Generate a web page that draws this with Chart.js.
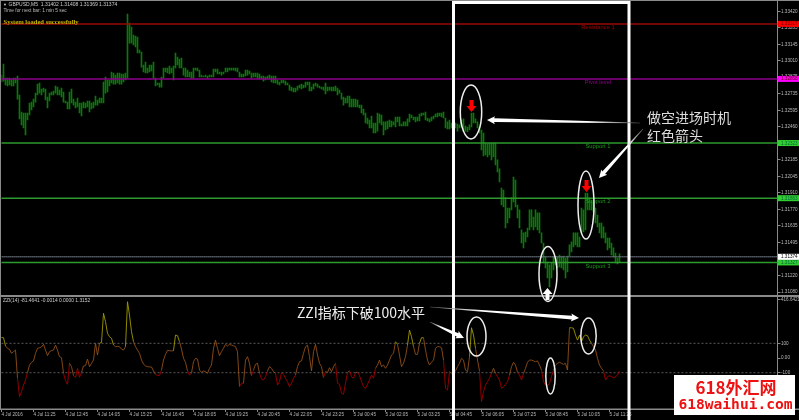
<!DOCTYPE html>
<html>
<head>
<meta charset="utf-8">
<title>GBPUSD,M5</title>
<script src="https://cdn.jsdelivr.net/npm/chart.js@4/dist/chart.umd.js"></script>
<style>
	html, body {margin: 0; padding: 0; background: #000;}
	canvas {display: block;}
</style>
</head>
<body>
<canvas id="chart" width="799" height="420"></canvas>
<script>
const highs = [
	1.32890,1.32982,1.32865,1.32865,1.32865,1.32857,1.32865,1.32865,1.32882,1.32724,
	1.32582,1.32574,1.32574,1.32574,1.32657,1.32665,1.32690,1.32740,1.32815,1.32824,
	1.32774,1.32782,1.32774,1.32707,1.32740,1.32749,1.32757,1.32799,1.32790,1.32765,
	1.32782,1.32749,1.32674,1.32665,1.32749,1.32774,1.32690,1.32665,1.32699,1.32657,
	1.32657,1.32665,1.32657,1.32674,1.32674,1.32657,1.32665,1.32715,1.32682,1.32699,
	1.32699,1.32832,1.32874,1.32849,1.32849,1.32916,1.32907,1.32890,1.32907,1.32907,
	1.32899,1.32899,1.32907,1.33399,1.33324,1.33291,1.33224,1.33216,1.33207,1.33099,
	1.33082,1.32974,1.32999,1.32949,1.32974,1.32974,1.32999,1.32865,1.32824,1.32824,
	1.32874,1.32949,1.32949,1.32949,1.32966,1.32949,1.32966,1.33074,1.33041,1.33024,
	1.33032,1.32949,1.32949,1.32932,1.32916,1.32916,1.32949,1.32949,1.32949,1.32932,
	1.32890,1.32882,1.32890,1.32882,1.32890,1.32890,1.32941,1.32941,1.32941,1.32916,
	1.32916,1.32916,1.32949,1.32949,1.32949,1.32949,1.32949,1.32949,1.32949,1.32916,
	1.32899,1.32899,1.32932,1.32932,1.32924,1.32907,1.32907,1.32907,1.32907,1.32899,
	1.32882,1.32882,1.32874,1.32882,1.32890,1.32882,1.32882,1.32882,1.32849,1.32832,
	1.32849,1.32849,1.32840,1.32824,1.32807,1.32790,1.32782,1.32782,1.32799,1.32807,
	1.32815,1.32807,1.32832,1.32832,1.32832,1.32790,1.32815,1.32824,1.32815,1.32799,
	1.32790,1.32790,1.32824,1.32790,1.32790,1.32790,1.32790,1.32799,1.32782,1.32765,
	1.32740,1.32707,1.32699,1.32715,1.32715,1.32690,1.32690,1.32690,1.32682,1.32640,
	1.32640,1.32607,1.32574,1.32532,1.32515,1.32549,1.32490,1.32490,1.32574,1.32565,
	1.32557,1.32499,1.32499,1.32507,1.32515,1.32507,1.32499,1.32540,1.32540,1.32540,
	1.32482,1.32499,1.32499,1.32524,1.32565,1.32557,1.32540,1.32540,1.32540,1.32565,
	1.32574,1.32574,1.32582,1.32532,1.32524,1.32540,1.32549,1.32565,1.32574,1.32574,
	1.32574,1.32582,1.32532,1.32499,1.32515,1.32490,1.32490,1.32490,1.32482,1.32474,
	1.32515,1.32524,1.32465,1.32457,1.32474,1.32574,1.32574,1.32524,1.32499,1.32457,
	1.32432,1.32407,1.32323,1.32315,1.32323,1.32323,1.32323,1.32323,1.32182,1.32107,
	1.31948,1.31931,1.31865,1.31781,1.31781,1.31865,1.32040,1.32015,1.31806,1.31765,
	1.31598,1.31573,1.31581,1.31614,1.31765,1.31765,1.31706,1.31765,1.31740,1.31740,
	1.31573,1.31489,1.31373,1.31331,1.31306,1.31323,1.31373,1.31373,1.31373,1.31389,
	1.31373,1.31381,1.31364,1.31381,1.31473,1.31498,1.31573,1.31573,1.31573,1.31539,
	1.31781,1.31765,1.31906,1.31906,1.31865,1.31848,1.31831,1.31781,1.31723,1.31656,
	1.31656,1.31623,1.31573,1.31531,1.31531,1.31489,1.31448,1.31406,1.31364,1.31398
];
const lows = [
	1.32832,1.32840,1.32807,1.32799,1.32807,1.32799,1.32799,1.32824,1.32690,1.32524,
	1.32474,1.32449,1.32390,1.32515,1.32557,1.32599,1.32624,1.32665,1.32724,1.32740,
	1.32724,1.32749,1.32682,1.32615,1.32674,1.32724,1.32724,1.32740,1.32724,1.32724,
	1.32707,1.32665,1.32657,1.32607,1.32607,1.32657,1.32640,1.32615,1.32624,1.32574,
	1.32549,1.32615,1.32615,1.32624,1.32582,1.32607,1.32615,1.32640,1.32640,1.32657,
	1.32657,1.32657,1.32740,1.32749,1.32799,1.32824,1.32815,1.32815,1.32824,1.32815,
	1.32815,1.32832,1.32849,1.32865,1.33157,1.33157,1.33141,1.33124,1.33074,1.33074,
	1.32957,1.32916,1.32907,1.32907,1.32916,1.32924,1.32865,1.32799,1.32807,1.32790,
	1.32790,1.32865,1.32916,1.32907,1.32899,1.32907,1.32849,1.32949,1.32974,1.32949,
	1.32949,1.32890,1.32874,1.32874,1.32874,1.32865,1.32865,1.32932,1.32924,1.32874,
	1.32874,1.32874,1.32874,1.32865,1.32874,1.32874,1.32874,1.32916,1.32899,1.32899,
	1.32890,1.32899,1.32916,1.32916,1.32932,1.32932,1.32932,1.32924,1.32916,1.32874,
	1.32874,1.32874,1.32882,1.32890,1.32899,1.32865,1.32874,1.32874,1.32865,1.32857,
	1.32857,1.32840,1.32849,1.32857,1.32857,1.32832,1.32824,1.32824,1.32815,1.32807,
	1.32824,1.32824,1.32807,1.32807,1.32765,1.32757,1.32749,1.32749,1.32765,1.32782,
	1.32774,1.32782,1.32790,1.32807,1.32757,1.32757,1.32774,1.32799,1.32790,1.32782,
	1.32774,1.32765,1.32732,1.32757,1.32765,1.32757,1.32757,1.32757,1.32724,1.32740,
	1.32690,1.32640,1.32657,1.32657,1.32624,1.32624,1.32624,1.32624,1.32624,1.32615,
	1.32574,1.32557,1.32490,1.32482,1.32449,1.32449,1.32407,1.32407,1.32423,1.32490,
	1.32474,1.32390,1.32432,1.32440,1.32457,1.32457,1.32474,1.32457,1.32499,1.32465,
	1.32465,1.32465,1.32465,1.32465,1.32499,1.32532,1.32515,1.32499,1.32507,1.32507,
	1.32549,1.32557,1.32515,1.32507,1.32499,1.32507,1.32524,1.32540,1.32540,1.32549,
	1.32540,1.32532,1.32449,1.32440,1.32440,1.32449,1.32449,1.32449,1.32423,1.32449,
	1.32457,1.32423,1.32423,1.32415,1.32432,1.32457,1.32490,1.32490,1.32449,1.32407,
	1.32265,1.32215,1.32223,1.32207,1.32223,1.32182,1.32207,1.32140,1.32082,1.31998,
	1.31806,1.31790,1.31614,1.31656,1.31698,1.31765,1.31831,1.31790,1.31698,1.31614,
	1.31489,1.31448,1.31498,1.31539,1.31598,1.31623,1.31598,1.31623,1.31598,1.31573,
	1.31489,1.31323,1.31281,1.31197,1.31122,1.31197,1.31264,1.31306,1.31281,1.31289,
	1.31281,1.31264,1.31197,1.31248,1.31381,1.31414,1.31456,1.31473,1.31456,1.31456,
	1.31573,1.31581,1.31598,1.31765,1.31765,1.31765,1.31748,1.31656,1.31623,1.31573,
	1.31531,1.31531,1.31489,1.31431,1.31448,1.31389,1.31373,1.31323,1.31314,1.31331
];
const zzi = [
	140,138,82,66,59,32,43,54,-138,-263,-229,-184,-150,-98,-48,-29,-20,32,66,70,
	75,93,54,16,43,50,54,88,54,9,2,-104,-154,-179,-36,-59,-120,-134,-70,-131,
	-98,-54,-52,-7,-59,-36,-14,100,20,100,106,304,247,168,145,134,88,77,79,77,
	61,54,77,383,292,179,111,77,54,32,-14,-41,-54,-59,-61,-61,-88,-111,-120,-118,
	-82,-14,25,52,50,48,50,156,152,111,61,-2,-29,-88,-116,-104,-25,-2,-7,-82,
	-98,-88,-93,-104,-70,-48,66,122,66,16,43,66,93,82,93,88,84,77,43,-195,
	-172,-172,-14,9,-36,-120,-82,-43,-36,-104,-143,-150,-127,-88,-59,
	-70,-93,-104,-184,-161,-98,-111,-138,-161,-195,-172,-138,-116,-59,-25,-20,32,77,88,9,
	-88,43,93,20,-36,-59,-134,-93,-98,-66,-93,-59,-36,-172,-179,-240,-247,-172,-98,-88,
	-127,-138,-98,-98,-120,-161,-195,-206,-179,-150,-116,-138,-70,-48,-14,-59,-48,-70,-48,-14,
	20,32,111,93,20,-59,-36,9,88,190,145,77,25,25,100,138,138,54,-14,-48,
	-29,-14,66,77,77,70,-14,-206,-218,-93,-104,-127,-88,-59,-36,-2,-14,-82,-93,9,
	206,156,66,-14,-88,-297,-229,-184,-161,-138,-104,-70,-104,-127,-150,-206,-195,-179,-161,-116,
	-59,-29,-48,-98,-116,-150,-104,-70,-29,-14,
	-14,-20,-25,-20,-48,-82,-161,-184,-188,-172,-127,-82,-48,-36,-29,-36,-43,-36,-82,
	206,206,202,156,122,156,111,145,156,152,122,100,77,54,-2,-48,-70,-88,-150,-127,
	-120,-127,-134,-127,-116,-88
];
const tickLabels = [
	'4 Jul 2016','4 Jul 11:25','4 Jul 12:45','4 Jul 14:05','4 Jul 15:25','4 Jul 16:45','4 Jul 18:05',
	'4 Jul 19:25','4 Jul 20:45','4 Jul 22:05','4 Jul 23:25','5 Jul 00:45','5 Jul 02:05','5 Jul 03:25',
	'5 Jul 04:45','5 Jul 06:05','5 Jul 07:25','5 Jul 08:45','5 Jul 10:05','5 Jul 11:25'
];
const priceTicks = [
	1.33420,1.33285,1.33145,1.33010,1.32875,1.32735,1.32595,1.32460,1.32325,
	1.32185,1.32045,1.31910,1.31770,1.31635,1.31495,1.31360,1.31220,1.31080
];
// the top label sits a little under the pane edge in the terminal
const zziTicks = [398, 100, 0, -100];
const zziTickText = ['416.6421', '100', '0.00', '-100'];
const levelNames = ['Resistance 1', 'Pivot level', 'Support 1', 'Support 2', 'Support 3'];
const levelPrices = [1.33317, 1.32858, 1.32323, 1.31863, 1.31327];
const levelColors = ['#960808', '#8b008b', '#2c9a2c', '#2c9a2c', '#2c9a2c'];
const levelTextColors = ['#a00000', '#8a008a', '#189618', '#189618', '#189618'];
const levelTagColors = ['#ff0000', '#ff00ff', '#32cd32', '#32cd32', '#32cd32'];
const lastPrice = 1.31374;
const slots = 389;

const labels = Array.from({length: slots}, (_, i) => i);
const flat = (v) => labels.map(() => v);

const levelSets = levelPrices.map((p, k) => ({
	type: 'line', data: flat(p), yAxisID: 'y', borderColor: levelColors[k],
	borderWidth: 1.5, pointRadius: 0, order: 1
}));

const ellipses = [
	{bar: 234.75, val: 1.32582, axis: 'y', rx: 10.7, ry: 27},
	{bar: 292.25, val: 1.31806, axis: 'y', rx: 8, ry: 34},
	{bar: 273.25, val: 1.31231, axis: 'y', rx: 9, ry: 27.5},
	{bar: 237.5, val: 146, axis: 'z', rx: 9.5, ry: 19.5},
	{bar: 293.5, val: 150, axis: 'z', rx: 7.7, ry: 18},
	{bar: 274.5, val: -122, axis: 'z', rx: 4.7, ry: 18}
];
const pointers = [
	{from: [319.25, 1.32490], to: [242.75, 1.32515], axis: 'y'},
	{from: [320.75, 1.32440], to: [298.75, 1.32031], axis: 'y'},
	{from: [214.25, 245], to: [231.25, 136], axis: 'z'},
	{from: [214.25, 347], to: [288.75, 272], axis: 'z'}
];
const signals = [
	{bar: 235, val: 1.32582, dir: 1, color: '#ff0000'},
	{bar: 292.5, val: 1.31915, dir: 1, color: '#ff0000'},
	{bar: 273, val: 1.31114, dir: -1, color: '#ffffff'}
];

function put(ctx, text, x, y, font, color, align) {
	ctx.font = font;
	ctx.fillStyle = color;
	ctx.textAlign = align || 'left';
	ctx.textBaseline = 'middle';
	ctx.fillText(text, x, y);
}

function drawPointer(ctx, x0, y0, x1, y1) {
	const a = Math.atan2(y1 - y0, x1 - x0), len = Math.hypot(x1 - x0, y1 - y0);
	const g = ctx.createLinearGradient(x0, y0, x1, y1);
	g.addColorStop(0, '#555');
	g.addColorStop(0.35, '#fff');
	ctx.save();
	ctx.translate(x0, y0);
	ctx.rotate(a);
	ctx.beginPath();
	ctx.moveTo(0, -0.3);
	ctx.lineTo(len * 0.45, -1.1);
	ctx.lineTo(len - 7, -1.9);
	ctx.lineTo(len - 8, -4);
	ctx.lineTo(len, 0);
	ctx.lineTo(len - 8, 4);
	ctx.lineTo(len - 7, 1.9);
	ctx.lineTo(len * 0.45, 1.1);
	ctx.lineTo(0, 0.3);
	ctx.closePath();
	ctx.restore();
	ctx.fillStyle = g;
	ctx.fill();
}

function drawSignal(ctx, x, y, dir, color) {
	ctx.fillStyle = color;
	ctx.beginPath();
	ctx.moveTo(x, y);
	ctx.lineTo(x - 5, y - 6 * dir);
	ctx.lineTo(x - 2, y - 6 * dir);
	ctx.lineTo(x - 2, y - 12 * dir);
	ctx.lineTo(x + 2, y - 12 * dir);
	ctx.lineTo(x + 2, y - 6 * dir);
	ctx.lineTo(x + 5, y - 6 * dir);
	ctx.closePath();
	ctx.fill();
}

const overlay = {
	id: 'overlay',
	afterDraw(chart) {
		const ctx = chart.ctx, {x, y, z} = chart.scales;
		const scale = {y: y, z: z};
		const sans = '"Liberation Sans"';

		// window frame and pane separators
		ctx.fillStyle = '#8a8a8a';
		ctx.fillRect(0, 0, 799, 1);
		ctx.fillRect(0, 0, 1, 409);
		ctx.fillRect(0, y.bottom - 1, 799, 2);
		ctx.fillRect(0, z.bottom - 0.5, 799, 1.5);

		// header texts
		put(ctx, '▼', 3, 4.5, '4px ' + sans, '#ccc');
		put(ctx, 'GBPUSD,M5  1.31402 1.31408 1.31369 1.31374', 8.5, 4.5, '5px ' + sans, '#ccc');
		put(ctx, 'Time for next bar: 1 min 5 sec', 3.5, 11, '4.8px ' + sans, '#bbb');
		put(ctx, 'System loaded successfully', 3.5, 22, 'bold 6.6px "Liberation Serif"', '#c8b400');
		put(ctx, 'ZZI(14) -81.4641 -0.0014 0.0000 1.3152', 3, 300.5, '4.9px ' + sans, '#ccc');

		// level names and price tags
		levelPrices.forEach((p, k) => {
			const py = y.getPixelForValue(p);
			put(ctx, levelNames[k], 598, py + 3.6, '5.8px ' + sans, levelTextColors[k], 'center');
			ctx.fillStyle = levelTagColors[k];
			ctx.fillRect(778, py - 3, 21, 6);
			put(ctx, p.toFixed(5), 781, py + 0.2, '4.6px ' + sans, k >= 2 ? '#063' : '#600');
		});
		const lastY = y.getPixelForValue(lastPrice);
		ctx.fillStyle = '#fff';
		ctx.fillRect(778, lastY - 3, 21, 6);
		put(ctx, lastPrice.toFixed(5), 781, lastY + 0.2, '4.6px ' + sans, '#000');

		// highlight box
		const left = x.getPixelForValue(226), right = x.getPixelForValue(313.75);
		ctx.strokeStyle = '#fff';
		ctx.lineWidth = 3;
		ctx.beginPath();
		ctx.moveTo(left, 424);
		ctx.lineTo(left, 2.5);
		ctx.lineTo(right, 2.5);
		ctx.lineTo(right, 424);
		ctx.stroke();

		// circled areas
		ctx.strokeStyle = '#eee';
		ctx.lineWidth = 1.5;
		ellipses.forEach((e) => {
			ctx.beginPath();
			ctx.ellipse(x.getPixelForValue(e.bar), scale[e.axis].getPixelForValue(e.val), e.rx, e.ry, 0, 0, Math.PI * 2);
			ctx.stroke();
		});
		signals.forEach((s) => drawSignal(ctx, x.getPixelForValue(s.bar), y.getPixelForValue(s.val), s.dir, s.color));
		pointers.forEach((p) => {
			const sc = scale[p.axis];
			drawPointer(ctx, x.getPixelForValue(p.from[0]), sc.getPixelForValue(p.from[1]),
				x.getPixelForValue(p.to[0]), sc.getPixelForValue(p.to[1]));
		});

		// notes
		const cjk = '14px "Noto Sans CJK SC"';
		put(ctx, '做空进场时机', 647, 117.5, cjk, '#ddd');
		put(ctx, '红色箭头', 647, 135.5, cjk, '#ddd');
		put(ctx, 'ZZI指标下破100水平', 297, 312.5, cjk, '#eee');

		// site stamp
		ctx.fillStyle = '#fff';
		ctx.fillRect(674, 375, 121, 40);
		put(ctx, '618外汇网', 736, 388, 'bold 17px "Noto Sans CJK SC"', '#ee1111', 'center');
		put(ctx, '618waihui.com', 735.5, 405.5, 'bold 14.6px "DejaVu Sans Mono"', '#ee1111', 'center');
	}
};

// tick labels would otherwise push the chart area in from the edges
const fitRight = (s) => {
	s.width = 21.5;
	s.paddingTop = 0;
	s.paddingBottom = 0;
};

new Chart(document.getElementById('chart'), {
	type: 'bar',
	data: {
		labels: labels,
		datasets: [
			{
				type: 'bar', data: highs.map((h, i) => [lows[i], h]), yAxisID: 'y',
				backgroundColor: '#0c780c', barThickness: 1, grouped: false, order: 2
			},
			...levelSets,
			{
				type: 'line', data: flat(lastPrice), yAxisID: 'y', borderColor: '#6f7a85',
				borderWidth: 1, pointRadius: 0, order: 1
			},
			{
				type: 'line', data: flat(100), yAxisID: 'z', borderColor: '#5a5a5a',
				borderWidth: 1, borderDash: [2, 2], pointRadius: 0, order: 1
			},
			{
				type: 'line', data: flat(-100), yAxisID: 'z', borderColor: '#5a5a5a',
				borderWidth: 1, borderDash: [2, 2], pointRadius: 0, order: 1
			},
			{
				type: 'line', data: zzi, yAxisID: 'z', borderWidth: 0.9, borderColor: '#8f4f1a',
				pointRadius: 0, order: 0,
				segment: {
					borderColor: (c) => {
						const v = (c.p0.parsed.y + c.p1.parsed.y) / 2;
						return v >= 100 ? '#a09800' : v <= -100 ? '#a00000' : '#8f4f1a';
					}
				}
			}
		]
	},
	options: {
		responsive: false,
		animation: false,
		devicePixelRatio: 1,
		layout: {padding: {left: 1.5, top: 1, right: 0, bottom: 0}},
		plugins: {legend: {display: false}, tooltip: {enabled: false}},
		scales: {
			x: {
				type: 'category',
				offset: false,
				border: {color: '#8a8a8a'},
				grid: {drawOnChartArea: false, offset: false, color: '#8a8a8a', tickLength: 3},
				afterBuildTicks: (s) => {
					s.ticks = tickLabels.map((_, k) => ({value: k * 16}));
				},
				afterFit: (s) => {
					s.height = 11;
					s.paddingLeft = 0;
					s.paddingRight = 0;
				},
				ticks: {
					autoSkip: false, maxRotation: 0, minRotation: 0, align: 'start', padding: -0.5,
					color: '#bbb', font: {family: 'Liberation Sans', size: 4.6},
					callback: (v, k) => tickLabels[k]
				}
			},
			y: {
				position: 'right', stack: 'panes', stackWeight: 295,
				min: 1.31047, max: 1.33508,
				border: {color: '#8a8a8a'},
				grid: {drawOnChartArea: false, color: '#8a8a8a', tickLength: 3},
				afterBuildTicks: (s) => {
					s.ticks = priceTicks.map((v) => ({value: v}));
				},
				afterFit: fitRight,
				ticks: {
					autoSkip: false, padding: 0.5, color: '#bbb',
					font: {family: 'Liberation Sans', size: 4.6},
					callback: (v) => v.toFixed(5)
				}
			},
			z: {
				position: 'right', stack: 'panes', stackWeight: 113,
				min: -347, max: 422,
				border: {color: '#8a8a8a'},
				grid: {drawOnChartArea: false, color: '#8a8a8a', tickLength: 3},
				afterBuildTicks: (s) => {
					s.ticks = zziTicks.map((v) => ({value: v}));
				},
				afterFit: fitRight,
				ticks: {
					autoSkip: false, padding: 0.5, color: '#bbb',
					font: {family: 'Liberation Sans', size: 4.6},
					callback: (v, k) => zziTickText[k]
				}
			}
		}
	},
	plugins: [overlay]
});
</script>
</body>
</html>
